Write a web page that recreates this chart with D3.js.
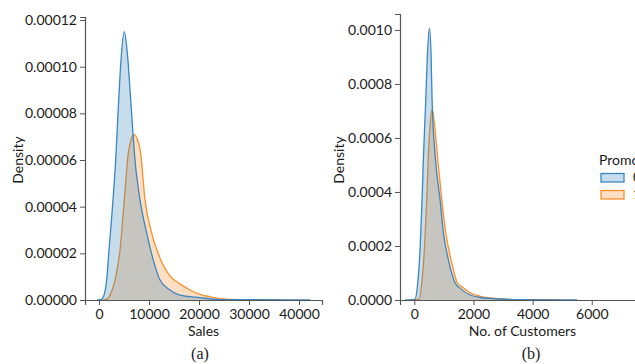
<!DOCTYPE html>
<html>
<head>
<meta charset="utf-8">
<script src="https://cdn.jsdelivr.net/npm/d3@7"></script>
<style>
  body { margin: 0; background: #fff; }
  svg { display: block; }
  .tick text { font-family: Lato, "Open Sans", sans-serif; font-size: 14px; fill: #1a1a1a; }
  .lbl { font-family: Lato, "Open Sans", sans-serif; font-size: 14px; fill: #1a1a1a; }
  .cap { font-family: "Liberation Serif", "DejaVu Serif", serif; font-size: 16px; fill: #1a1a1a; }
</style>
</head>
<body>
<svg width="635" height="364"></svg>
<script>
// (a) Sales density, Promo = 0 / 1
var salesX0 = [-400, 400, 1000, 1540, 2000, 2540, 3340, 3940, 4400, 5060, 5700, 6340, 7200, 8200, 9540, 10860, 12200, 14200, 16200, 20200, 24200, 32200, 42200];
var salesY0 = [0, 0.0000002, 0.0000021, 0.0000086, 0.0000214, 0.0000357, 0.00006, 0.0000857, 0.0001029, 0.000115, 0.000105, 0.0000857, 0.00006, 0.0000429, 0.0000287, 0.0000171, 0.0000086, 0.0000043, 0.0000021, 0.000001, 0.0000002, 0.0000001, 0];
var salesX1 = [800, 1600, 2200, 3200, 4200, 5060, 5800, 6400, 7060, 7700, 8300, 9200, 10540, 12200, 14200, 16200, 18200, 20200, 22200, 24200, 28200, 36200];
var salesY1 = [0, 0.0000004, 0.0000021, 0.0000086, 0.0000214, 0.0000429, 0.0000621, 0.0000686, 0.000071, 0.0000686, 0.0000634, 0.0000429, 0.0000287, 0.000018, 0.0000103, 0.0000069, 0.0000043, 0.0000024, 0.0000014, 0.0000006, 0.0000001, 0];

// (b) Customers density, Promo = 0 / 1
var custX0 = [-315, -78, 24, 115, 193, 261, 305, 386, 441, 509, 566, 600, 702, 871, 983, 1153, 1380, 1549, 1888, 2227, 2905, 3583, 4939, 5500];
var custY0 = [0, 0.0000011, 0.0000037, 0.000063, 0.000185, 0.00037, 0.000519, 0.000741, 0.000907, 0.001006, 0.000907, 0.000741, 0.000537, 0.00037, 0.000248, 0.000148, 0.000063, 0.000043, 0.0000185, 0.0000093, 0.0000037, 0.0000011, 0.0000002, 0];
var custX1 = [-78, 159, 251, 339, 420, 475, 532, 610, 685, 793, 929, 1064, 1244, 1458, 1617, 1888, 2227, 2566, 2905, 3583, 4939];
var custY1 = [0, 0.0000037, 0.000063, 0.000185, 0.00037, 0.000537, 0.000648, 0.000706, 0.000648, 0.000519, 0.00037, 0.000248, 0.000148, 0.000063, 0.000048, 0.000027, 0.0000137, 0.0000074, 0.0000037, 0.0000011, 0];

var salesTicksX = [0, 10000, 20000, 30000, 40000];
var salesTicksY = [0, 0.00002, 0.00004, 0.00006, 0.00008, 0.0001, 0.00012];
var custTicksX = [0, 2000, 4000, 6000, 8000];
var custTicksY = [0, 0.0002, 0.0004, 0.0006, 0.0008, 0.001];

var promoLabels = ["0", "1"];
var lineCol = ["#3a86c1", "#f7902e"];
var fillCol = ["rgba(31,119,180,0.25)", "rgba(255,127,14,0.25)"];

var svg = d3.select("svg");

function zip(xs, ys) {
  return xs.map(function(x, i) { return {x: x, y: ys[i]}; });
}

function panel(o) {
  var x = d3.scaleLinear().domain(o.xDom).range(o.xRange);
  var y = d3.scaleLinear().domain(o.yDom).range([300, o.top]);
  var g = svg.append("g");

  var area = d3.area().curve(d3.curveMonotoneX)
      .x(function(d) { return x(d.x); })
      .y0(y(0))
      .y1(function(d) { return y(d.y); });
  var line = d3.line().curve(d3.curveMonotoneX)
      .x(function(d) { return x(d.x); })
      .y(function(d) { return y(d.y); });

  // seaborn draws hue levels last-to-first, so orange goes under blue
  [1, 0].forEach(function(i) {
    g.append("path").datum(o.series[i]).attr("d", area).attr("fill", fillCol[i]);
    g.append("path").datum(o.series[i]).attr("d", line)
      .attr("fill", "none").attr("stroke", lineCol[i]).attr("stroke-width", 1.3);
  });

  var ax = g.append("g").attr("transform", "translate(0,300)")
      .call(d3.axisBottom(x).tickValues(o.xTicks).tickSize(5).tickPadding(4).tickFormat(d3.format("d")));
  var ay = g.append("g").attr("transform", "translate(" + o.xRange[0] + ",0)")
      .call(d3.axisLeft(y).tickValues(o.yTicks).tickSize(5).tickPadding(3).tickFormat(d3.format(o.yFmt)));
  [ax, ay].forEach(function(a) {
    a.select(".domain").attr("stroke", "#555").attr("stroke-width", 1.2);
    a.selectAll(".tick line").attr("stroke", "#555");
  });

  g.append("text").attr("class", "lbl")
    .attr("x", (o.xRange[0] + o.xRange[1]) / 2).attr("y", 336)
    .attr("text-anchor", "middle").text(o.xLabel);
  g.append("text").attr("class", "lbl")
    .attr("transform", "translate(" + o.yLabX + ",160) rotate(-90)")
    .attr("text-anchor", "middle").text("Density");
  g.append("text").attr("class", "cap")
    .attr("x", o.capX).attr("y", 359)
    .attr("text-anchor", "middle").text(o.cap);
}

panel({
  xDom: [-2800, 44600], xRange: [85, 322],
  yDom: [0, 0.0001213], top: 17,
  series: [zip(salesX0, salesY0), zip(salesX1, salesY1)],
  xTicks: salesTicksX, yTicks: salesTicksY, yFmt: ".5f",
  xLabel: "Sales", yLabX: 23, cap: "(a)", capX: 200
});

panel({
  xDom: [-485, 7800], xRange: [400, 645],
  yDom: [0, 0.001059], top: 14,
  series: [zip(custX0, custY0), zip(custX1, custY1)],
  xTicks: custTicksX, yTicks: custTicksY, yFmt: ".4f",
  xLabel: "No. of Customers", yLabX: 344, cap: "(b)", capX: 531
});

// legend (cut off at the right edge, as in the original figure)
var leg = svg.append("g");
leg.append("text").attr("class", "lbl").attr("x", 599).attr("y", 165).text("Promo");
promoLabels.forEach(function(p, i) {
  leg.append("rect").attr("x", 601).attr("y", 173.5 + i * 17).attr("width", 23).attr("height", 8.5)
    .attr("fill", fillCol[i]).attr("stroke", lineCol[i]).attr("stroke-width", 1.3);
  leg.append("text").attr("class", "lbl").attr("x", 633).attr("y", 182 + i * 17).text(p);
});
</script>
</body>
</html>
